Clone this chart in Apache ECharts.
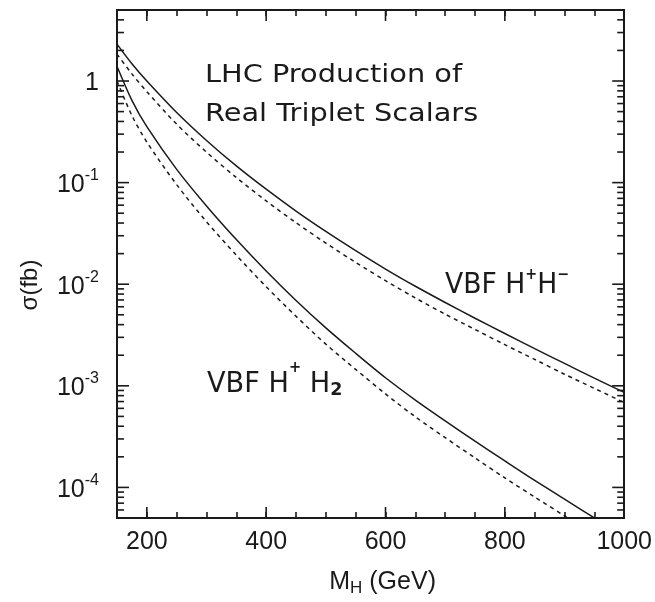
<!DOCTYPE html>
<html>
<head>
<meta charset="utf-8">
<script src="https://cdn.jsdelivr.net/npm/echarts@6/dist/echarts.min.js"></script>
<style>html,body{margin:0;padding:0;background:#fff}#c{width:655px;height:602px}</style>
</head>
<body>
<div id="c"></div>
<script>
// ---- data ----
const massGeV = [150, 175, 200, 250, 300, 350, 400, 450, 500, 550, 600, 650, 700, 750, 800, 850, 900, 950, 1000];
const hphmSolid  = [2.31, 1.479, 1.0, 0.490, 0.260, 0.146, 0.0861, 0.0525, 0.0331, 0.0214, 0.0141, 0.00955, 0.00661, 0.00462, 0.00327, 0.00232, 0.00166, 0.00119, 0.000861];
const hphmDashed = [1.84, 1.175, 0.785, 0.376, 0.1995, 0.1122, 0.0661, 0.0403, 0.0254, 0.0164, 0.01084, 0.00733, 0.00507, 0.00359, 0.00254, 0.00182, 0.0013, 0.000944, 0.000684];
const hph2Solid  = [1.40, 0.646, 0.355, 0.135, 0.0589, 0.0275, 0.0135, 0.00692, 0.00372, 0.00209, 0.0012, 0.000724, 0.000452, 0.000285, 0.000182, 0.000117, 0.0000767, 0.0000501, 0.0000331];
const hph2Dashed = [1.0, 0.457, 0.251, 0.0955, 0.0412, 0.0193, 0.00944, 0.00484, 0.00257, 0.00145, 0.000832, 0.000495, 0.000309, 0.000195, 0.000124, 0.0000804, 0.0000525, 0.0000343, 0.0000226];

const xMajorTicks = [200, 400, 600, 800, 1000];
const yMajorTicks = [1e-4, 1e-3, 1e-2, 1e-1, 1];
const yMinorTicks = [6e-5, 7e-5, 8e-5, 9e-5,
  2e-4, 3e-4, 4e-4, 5e-4, 6e-4, 7e-4, 8e-4, 9e-4,
  2e-3, 3e-3, 4e-3, 5e-3, 6e-3, 7e-3, 8e-3, 9e-3,
  2e-2, 3e-2, 4e-2, 5e-2, 6e-2, 7e-2, 8e-2, 9e-2,
  0.2, 0.3, 0.4, 0.5, 0.6, 0.7, 0.8, 0.9,
  2, 3, 4];

const X_MIN = 150, X_MAX = 1000, Y_MIN = 5e-5, Y_MAX = 5;

function pairs(ys) { return massGeV.map((m, i) => [m, ys[i]]).filter(p => p[1] != null); }

const chart = echarts.init(document.getElementById('c'), null, {renderer: 'canvas'});
const INK = '#1a1a1a';
const labelFont = 'Liberation Sans, Arial, sans-serif';

function yLabel(v) {
  const l = Math.log10(v);
  const e = Math.round(l);
  if (Math.abs(l - e) > 0.01) return '';
  if (e === 0) return '{b|1}';
  return '{b|10}{s|' + e + '}';
}

const tickSeries = (data, kind, len) => ({
  type: 'custom',
  coordinateSystem: 'cartesian2d',
  xAxisIndex: 0, yAxisIndex: 0,
  silent: true, clip: false, z: 5,
  data: data.map(v => [v]),
  renderItem: function (params, api) {
    const v = api.value(0);
    const st = {stroke: INK, lineWidth: 1.6};
    if (kind === 'y') {
      const a = api.coord([X_MIN, v]);
      const b = api.coord([X_MAX, v]);
      return {type: 'group', children: [
        {type: 'line', shape: {x1: a[0], y1: a[1], x2: a[0] + len, y2: a[1]}, style: st},
        {type: 'line', shape: {x1: b[0], y1: b[1], x2: b[0] - len, y2: b[1]}, style: st}
      ]};
    } else {
      const a = api.coord([v, Y_MIN]);
      const b = api.coord([v, Y_MAX]);
      return {type: 'group', children: [
        {type: 'line', shape: {x1: a[0], y1: a[1], x2: a[0], y2: a[1] - len}, style: st},
        {type: 'line', shape: {x1: b[0], y1: b[1], x2: b[0], y2: b[1] + len}, style: st}
      ]};
    }
  }
});

const lineSeries = (ys, dashed) => ({
  type: 'line',
  data: pairs(ys),
  smooth: 0.3,
  showSymbol: false,
  symbol: 'none',
  clip: true,
  lineStyle: {color: INK, width: 1.5, type: dashed ? [4, 4] : 'solid'},
  z: 3
});

const option = {
  animation: false,
  backgroundColor: '#fff',
  grid: {left: 117, right: 28, top: 10, bottom: 83, containLabel: false},
  xAxis: [{
    type: 'value', min: X_MIN, max: X_MAX, interval: 50,
    axisLine: {show: true, lineStyle: {color: INK, width: 2}},
    axisTick: {show: true, inside: true, length: 6, lineStyle: {color: INK, width: 1.6}},
    axisLabel: {
      color: INK, fontFamily: labelFont, fontSize: 25, margin: 12,
      formatter: v => (xMajorTicks.indexOf(v) >= 0 ? String(v) : '')
    },
    splitLine: {show: false},
    name: 'M{sub|H} (GeV)',
    nameLocation: 'middle', nameGap: 50,
    nameTextStyle: {color: INK, fontFamily: labelFont, fontSize: 25, padding: [0, 0, 0, 24],
      rich: {sub: {fontFamily: labelFont, fontSize: 17, color: INK, verticalAlign: 'bottom', padding: [12, 0, 0, 0]}}}
  }, {
    type: 'value', min: X_MIN, max: X_MAX, interval: 50, position: 'top',
    axisLine: {show: true, lineStyle: {color: INK, width: 2}},
    axisTick: {show: true, inside: true, length: 6, lineStyle: {color: INK, width: 1.6}},
    axisLabel: {show: false}, splitLine: {show: false}
  }],
  yAxis: [{
    type: 'log', logBase: 10, min: Y_MIN, max: Y_MAX,
    axisLine: {show: true, lineStyle: {color: INK, width: 2}},
    axisTick: {show: false},
    minorTick: {show: false},
    splitLine: {show: false},
    axisLabel: {
      color: INK, fontFamily: labelFont, fontSize: 25, margin: 18,
      showMinLabel: false, showMaxLabel: false,
      formatter: yLabel,
      rich: {
        b: {fontFamily: labelFont, fontSize: 25, color: INK, lineHeight: 30, verticalAlign: 'bottom'},
        s: {fontFamily: labelFont, fontSize: 16, color: INK, lineHeight: 30, verticalAlign: 'top', padding: [0, 0, 0, 0]}
      }
    }
  }, {
    type: 'log', logBase: 10, min: Y_MIN, max: Y_MAX, position: 'right',
    axisLine: {show: true, lineStyle: {color: INK, width: 2}},
    axisTick: {show: false}, axisLabel: {show: false}, splitLine: {show: false}
  }],
  graphic: [
    {type: 'text', x: 205, y: 64, scaleX: 1.2, originX: 0, style: {text: 'LHC Production of', font: '24px "DejaVu Sans"', fill: INK}},
    {type: 'text', x: 205, y: 103, scaleX: 1.2, originX: 0, style: {text: 'Real Triplet Scalars', font: '24px "DejaVu Sans"', fill: INK}},
    {type: 'text', x: 445, y: 268, scaleX: 0.95, originX: 0, style: {
      text: '{m|VBF H}{p|+}{m|H}{p|−}',
      rich: {m: {font: '28px "DejaVu Sans"', fill: INK, lineHeight: 32, verticalAlign: 'bottom'},
             p: {font: 'bold 15px "DejaVu Sans"', fill: INK, lineHeight: 32, verticalAlign: 'top'}}}},
    {type: 'text', x: 207, y: 361, scaleX: 0.97, originX: 0, style: {
      text: '{m|VBF H}{p|+}{m| H}{q|2}',
      rich: {m: {font: '28px "DejaVu Sans"', fill: INK, lineHeight: 32, verticalAlign: 'bottom'},
             p: {font: 'bold 15px "DejaVu Sans"', fill: INK, lineHeight: 32, verticalAlign: 'top'},
             q: {font: 'bold 18px "DejaVu Sans"', fill: INK, lineHeight: 38, verticalAlign: 'bottom'}}}},
    {type: 'text', x: 30, y: 285, rotation: Math.PI / 2, style: {
      text: 'σ(fb)', font: '24px "Liberation Sans"', fill: INK, align: 'center', verticalAlign: 'middle'}}
  ],
  series: [
    lineSeries(hphmSolid, false),
    lineSeries(hphmDashed, true),
    lineSeries(hph2Solid, false),
    lineSeries(hph2Dashed, true),
    tickSeries(yMajorTicks, 'y', 12),
    tickSeries(yMinorTicks, 'y', 7),
    tickSeries(xMajorTicks, 'x', 11)
  ]
};
chart.setOption(option);
</script>
</body>
</html>
